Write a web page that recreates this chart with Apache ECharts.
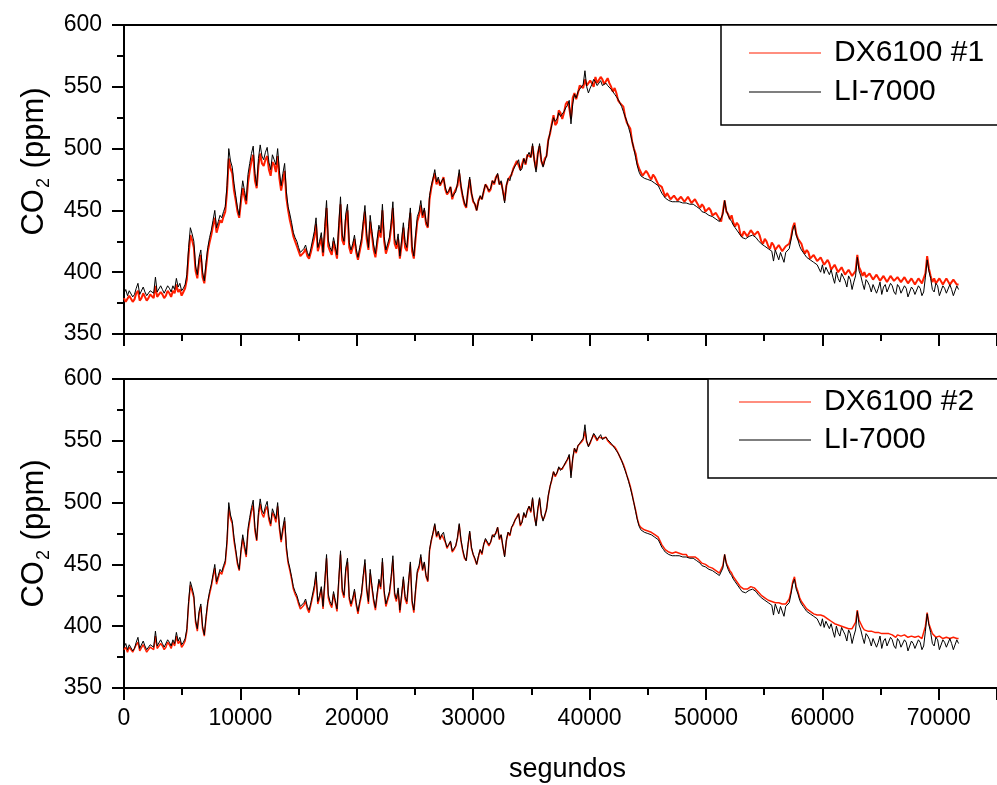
<!DOCTYPE html>
<html>
<head>
<meta charset="utf-8">
<script src="https://cdn.jsdelivr.net/npm/echarts@6/dist/echarts.min.js"></script>
<style>
  html, body { margin: 0; padding: 0; background: #fff; }
  #chart { width: 997px; height: 785px; }
</style>
</head>
<body>
<div id="chart"></div>
<script>
// Readings are stored every 150 s, starting at t = 0.
const logStep = 150;

// Reference analyser (same trace in both panels), ppm
const li7000 = [
  383,386,381,385,384,380,382,387,391,382,383,388,384,381,382,385,386,383,396,384,
  385,389,386,383,384,389,387,384,389,386,395,388,391,385,387,390,398,420,436,431,
  425,405,398,412,418,400,393,408,420,428,434,442,450,436,441,446,444,449,453,470,
  500,490,485,472,462,452,446,462,474,466,458,479,488,496,502,480,470,492,503,494,
  491,497,501,489,483,495,491,487,500,482,470,480,488,465,453,447,440,432,428,425,
  420,416,415,419,422,416,413,419,420,433,444,420,425,432,416,437,458,426,420,417,
  428,421,414,438,461,430,425,447,455,424,418,423,430,419,412,420,427,441,454,431,
  420,446,433,422,415,427,438,432,455,429,418,423,428,440,457,427,422,431,413,426,
  440,424,420,437,452,421,413,430,445,449,458,446,452,441,437,462,470,476,483,473,
  477,471,474,476,469,464,466,469,461,463,465,472,483,470,462,456,453,466,477,464,
  458,455,450,457,462,459,466,471,470,466,468,474,472,476,480,471,474,465,456,470,
  476,474,480,483,486,488,491,482,484,492,488,494,497,493,504,490,481,495,504,491,
  485,490,494,506,513,519,525,522,524,529,526,528,530,533,535,539,520,536,544,541,
  546,548,549,552,563,550,545,549,552,556,554,551,553,555,551,552,553,551,550,548,
  546,544,542,540,537,534,530,526,522,517,512,506,500,493,486,481,478,477,476,476,
  475,475,474,473,472,471,470,467,464,462,460,459,458,458,457,458,457,457,457,456,
  456,456,456,455,455,454,455,454,453,452,451,449,448,448,447,446,445,445,444,443,
  442,441,440,447,458,450,446,443,441,438,436,434,433,430,428,427,427,428,429,430,
  430,429,428,426,425,423,422,421,420,419,418,417,409,418,417,410,416,417,408,416,
  415,419,426,434,438,430,426,421,418,416,414,412,411,410,409,408,407,406,405,400,
  406,399,404,401,398,402,396,391,400,395,392,399,396,393,388,397,394,386,392,397,
  412,401,397,391,386,394,392,389,384,390,391,383,387,392,382,388,390,384,385,391,
  389,384,382,390,388,383,384,389,387,380,381,388,386,382,383,389,387,381,384,396,
  410,401,395,386,384,391,389,381,382,389,387,383,383,390,386,381,382,389,386
];

// Sensor DX6100 #1, ppm
const dx6100n1 = [
  379,376,377,381,380,376,378,383,385,377,379,383,380,377,379,382,382,379,389,380,
  381,384,382,379,381,385,383,380,385,383,390,384,386,381,384,387,394,414,430,426,
  420,401,395,408,414,396,391,404,417,424,430,438,444,432,437,442,440,445,449,465,
  492,484,480,466,458,449,444,457,468,461,455,472,482,490,495,474,468,486,496,488,
  486,491,494,483,478,489,487,481,494,476,466,474,482,460,450,442,436,429,425,421,
  417,413,412,416,419,413,411,416,417,428,439,417,422,428,413,432,452,421,417,414,
  425,418,411,434,455,426,422,442,450,420,415,420,427,416,410,417,424,437,449,427,
  418,441,430,418,412,423,434,428,450,425,415,420,425,436,452,423,419,427,411,422,
  436,420,417,433,448,417,411,427,441,446,454,444,450,439,436,459,468,475,480,471,
  475,470,473,477,467,463,465,469,459,464,464,470,480,469,461,455,452,465,475,464,
  457,455,450,458,461,459,465,471,469,465,467,474,471,477,479,471,473,466,458,470,
  475,477,479,484,485,490,490,483,484,492,487,495,496,493,502,491,483,496,502,490,
  486,492,494,507,512,520,527,519,521,531,529,524,529,536,538,533,524,541,545,540,
  545,551,552,549,556,551,550,555,553,550,558,553,553,558,556,552,553,557,553,550,
  546,549,545,539,537,538,534,526,521,520,516,506,500,496,488,484,483,478,477,482,
  480,477,475,479,477,474,471,470,469,465,461,464,463,459,458,462,462,458,458,461,
  461,457,457,461,460,456,456,459,458,454,452,455,453,449,448,452,450,446,445,448,
  447,443,441,449,458,449,447,443,446,440,437,440,438,431,429,433,432,429,430,434,
  435,430,429,433,430,425,423,427,425,421,419,424,422,418,418,422,421,417,416,421,
  420,423,428,436,440,431,427,425,423,418,415,418,416,411,410,414,413,409,408,412,
  412,406,407,410,407,402,401,406,405,400,399,404,403,398,398,402,401,397,396,401,
  414,404,401,397,400,396,395,399,399,394,394,398,398,393,393,397,397,392,393,397,
  397,393,392,396,396,392,391,396,396,391,391,395,395,390,390,395,395,391,390,399,
  413,403,397,392,395,391,391,395,394,390,391,395,394,390,390,394,394,390,390
];

// Sensor DX6100 #2, ppm
const dx6100n2 = [
  381,383,379,383,382,379,380,385,387,380,381,385,382,379,381,383,384,381,392,382,
  383,386,384,381,383,387,385,382,387,384,392,386,388,383,385,388,396,418,433,428,
  423,403,396,410,416,398,392,406,419,426,432,440,447,434,439,444,442,447,451,467,
  496,487,483,469,460,450,445,460,471,463,456,476,485,493,498,477,469,489,499,491,
  488,494,497,486,481,492,489,484,497,479,468,477,485,462,451,445,438,430,426,423,
  418,414,413,417,420,414,411,417,418,430,441,418,423,430,414,434,455,423,418,415,
  426,419,412,436,458,428,423,444,452,422,416,421,428,417,410,418,425,439,451,429,
  418,443,431,420,413,425,436,430,452,427,416,421,426,438,454,425,420,429,411,424,
  438,422,418,435,450,419,411,428,443,447,456,445,451,440,436,461,469,475,482,472,
  476,470,474,475,468,463,466,468,460,462,465,471,482,469,461,455,453,465,476,463,
  458,454,450,456,462,458,466,470,470,465,468,473,472,475,480,470,474,464,457,469,
  476,473,480,482,486,487,491,481,485,491,488,493,497,492,503,489,482,494,503,490,
  486,489,495,505,513,518,525,521,524,528,527,527,530,532,535,538,522,535,544,540,
  546,547,549,551,558,549,546,548,552,555,554,550,553,554,552,551,553,550,550,547,
  546,545,543,540,537,534,531,527,522,518,513,507,500,494,487,482,480,479,478,477,
  477,476,476,475,474,473,472,469,466,464,462,461,460,460,459,460,460,459,459,458,
  458,457,458,456,457,456,457,456,455,454,453,451,450,450,449,448,447,447,446,445,
  444,443,442,449,458,451,448,445,443,440,438,436,435,432,431,430,430,430,431,432,
  432,431,430,428,427,425,424,423,422,421,421,420,420,419,419,419,419,418,418,418,
  418,422,428,436,440,432,428,423,420,418,416,414,413,412,411,410,410,409,409,409,
  409,408,408,406,405,404,403,402,402,401,401,400,400,399,399,398,398,398,398,403,
  413,405,402,399,397,396,396,395,396,395,395,394,395,394,394,394,394,393,394,393,
  393,392,391,393,394,392,391,393,393,391,391,392,393,391,390,392,392,390,391,400,
  411,402,398,394,393,391,390,392,392,390,390,391,391,390,389,391,391,390,390
];

// Axis ranges and tick spacing
const timeRange = { min: 0, max: 75000, interval: 10000 };
const ppmRange = { min: 350, max: 600, interval: 50 };

const FONT = "'Liberation Sans', Arial, sans-serif";
const RED = '#ff1e00';
const BLACK = '#000000';

function toPairs(values) {
  return values.map((v, i) => [i * logStep, v]);
}

const axisLineStyle = { show: true, onZero: false, lineStyle: { color: '#000', width: 2 } };
const majorTick = { show: true, length: 12, lineStyle: { color: '#000', width: 2 } };
const minorTick = { show: true, splitNumber: 2, length: 7, lineStyle: { color: '#000', width: 2 } };

function bottomTimeAxis(gridIndex, withLabels) {
  const axis = {
    type: 'value', gridIndex, position: 'bottom',
    min: timeRange.min, max: timeRange.max, interval: timeRange.interval,
    axisLine: axisLineStyle, axisTick: majorTick, minorTick,
    splitLine: { show: false },
    axisLabel: { show: withLabels, fontFamily: FONT, fontSize: 23, color: '#000', margin: 19,
                 showMaxLabel: false, formatter: v => String(v) }
  };
  if (withLabels) {
    axis.name = 'segundos';
    axis.nameLocation = 'middle';
    axis.nameGap = 68;
    axis.nameTextStyle = { fontFamily: FONT, fontSize: 27, color: '#000', padding: [0, 0, 0, 14] };
  }
  return axis;
}

function topFrameAxis(gridIndex) {
  return {
    type: 'value', gridIndex, position: 'top',
    min: timeRange.min, max: timeRange.max,
    axisLine: axisLineStyle, axisTick: { show: false }, axisLabel: { show: false },
    splitLine: { show: false }
  };
}

function ppmAxis(gridIndex, leadPad) {
  return {
    type: 'value', gridIndex,
    min: ppmRange.min, max: ppmRange.max, interval: ppmRange.interval,
    axisLine: axisLineStyle, axisTick: majorTick, minorTick,
    splitLine: { show: false },
    axisLabel: { fontFamily: FONT, fontSize: 23, color: '#000', margin: 22 },
    name: '{a|CO}{b|2}{a| (ppm)}',
    nameLocation: 'middle',
    nameGap: 58,
    nameTextStyle: {
      fontFamily: FONT, color: '#000', padding: [0, 0, 0, leadPad],
      rich: {
        a: { fontFamily: FONT, fontSize: 31, lineHeight: 34, color: '#000', verticalAlign: 'middle' },
        b: { fontFamily: FONT, fontSize: 18, lineHeight: 34, color: '#000', verticalAlign: 'middle', padding: [18, 1, 0, 1] }
      }
    }
  };
}

function lineSeries(name, values, color, width, xi, yi, z) {
  return {
    name, type: 'line', data: toPairs(values),
    xAxisIndex: xi, yAxisIndex: yi,
    showSymbol: false, symbol: 'none', sampling: 'none',
    lineStyle: { color, width }, itemStyle: { color },
    z, animation: false
  };
}

function legendBox(names, left, top, padding, gap) {
  return {
    data: names, orient: 'vertical', left, top,
    icon: 'rect', itemWidth: 72, itemHeight: 1, itemGap: gap,
    padding, borderColor: '#000', borderWidth: 1.5, backgroundColor: '#fff',
    selectedMode: false,
    textStyle: { fontFamily: FONT, fontSize: 30, color: '#000', padding: [0, 0, 0, 8] }
  };
}

const chart = echarts.init(document.getElementById('chart'), null, { renderer: 'canvas' });

chart.setOption({
  animation: false,
  backgroundColor: '#fff',
  grid: [
    { left: 124, top: 25, width: 873, height: 309 },
    { left: 124, top: 379, width: 873, height: 309 }
  ],
  xAxis: [
    bottomTimeAxis(0, false),
    bottomTimeAxis(1, true),
    topFrameAxis(0),
    topFrameAxis(1)
  ],
  yAxis: [ppmAxis(0, 36), ppmAxis(1, 0)],
  legend: [
    legendBox(['DX6100 #1', 'LI-7000'], 721, 25, [13, 30, 18, 28], 9),
    legendBox(['DX6100 #2', 'LI-7000'], 708, 379, [8, 30, 23, 31], 8)
  ],
  series: [
    lineSeries('DX6100 #1', dx6100n1, RED, 2, 0, 0, 2),
    lineSeries('LI-7000', li7000, BLACK, 1, 0, 0, 3),
    lineSeries('DX6100 #2', dx6100n2, RED, 1.5, 1, 1, 2),
    lineSeries('LI-7000', li7000, BLACK, 1, 1, 1, 3)
  ]
});
</script>
</body>
</html>
